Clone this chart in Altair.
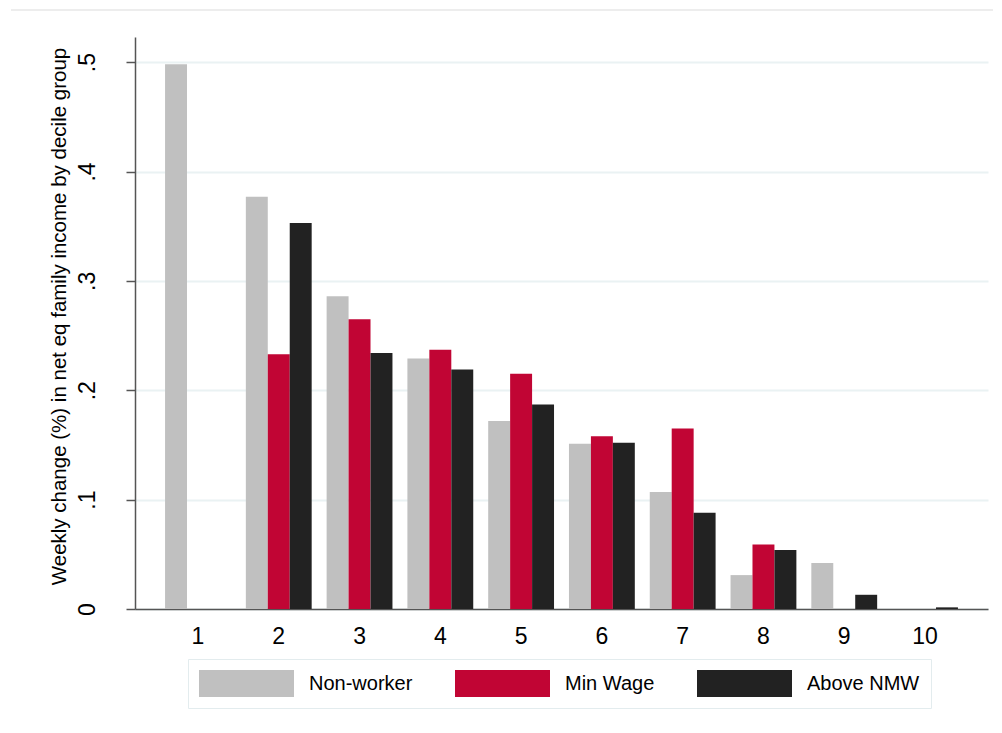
import altair as alt
import pandas as pd

deciles = ["1", "2", "3", "4", "5", "6", "7", "8", "9", "10"]
series = ["Non-worker", "Min Wage", "Above NMW"]
non_worker = [0.498, 0.377, 0.286, 0.229, 0.172, 0.151, 0.107, 0.031, 0.042, 0.0]
min_wage = [0.0, 0.233, 0.265, 0.237, 0.215, 0.158, 0.165, 0.059, 0.0, 0.0]
above_nmw = [0.0, 0.353, 0.234, 0.219, 0.187, 0.152, 0.088, 0.054, 0.013, 0.0015]
colors = ["#c0c0c0", "#c10534", "#222222"]
y_ticks = [0, 0.1, 0.2, 0.3, 0.4, 0.5]

rows = []
for name, vals in zip(series, [non_worker, min_wage, above_nmw]):
    for d, v in zip(deciles, vals):
        rows.append({"decile": d, "series": name, "value": v})
df = pd.DataFrame(rows)

FONT = "Liberation Sans"

bars = alt.Chart(df).mark_bar().encode(
    x=alt.X("decile:N", sort=deciles, title=None,
            scale=alt.Scale(paddingInner=0.185, paddingOuter=0.372),
            axis=alt.Axis(labelAngle=0, labelFontSize=23, labelFont=FONT,
                          labelColor="#000000", ticks=False, labelPadding=16,
                          domainColor="#555555", domainWidth=1.5, grid=False)),
    xOffset=alt.XOffset("series:N", sort=series,
                        scale=alt.Scale(paddingInner=0, paddingOuter=0)),
    y=alt.Y("value:Q", title="Weekly change (%) in net eq family income by decile group",
            scale=alt.Scale(domain=[0, 0.523], nice=False, zero=True),
            axis=alt.Axis(values=y_ticks,
                          labelExpr="datum.value == 0 ? '0' : substring(format(datum.value, '.1f'), 1)",
                          labelAngle=270, labelAlign="center", labelBaseline="alphabetic",
                          labelFontSize=23, labelFont=FONT, labelColor="#000000",
                          labelPadding=32, tickSize=9, tickColor="#555555", tickWidth=1.5,
                          domainColor="#555555", domainWidth=1.5,
                          grid=True, gridColor="#eaf2f3", gridWidth=2,
                          titleFont=FONT, titleFontSize=20.5, titleFontWeight="normal",
                          titleColor="#000000", titleAngle=270, titleAlign="center",
                          titleBaseline="alphabetic", titleX=-70, titleY=279)),
    color=alt.Color("series:N", sort=series, title=None,
                    scale=alt.Scale(domain=series, range=colors),
                    legend=alt.Legend(orient="none", legendX=53, legendY=622,
                                      direction="horizontal", columns=3,
                                      symbolType="M-1,-1H6.037V1H-1Z",
                                      symbolSize=729, symbolStrokeWidth=0,
                                      labelFont=FONT, labelFontSize=20,
                                      labelColor="#000000", labelOffset=83,
                                      columnPadding=42, padding=11,
                                      strokeColor="#e3ecee", fillColor="#ffffff")),
)

top_line = alt.Chart(df).mark_rule(color="#ececec", strokeWidth=1.5).encode(
    x=alt.value(-124), x2=alt.value(870), y=alt.value(-27)
)

chart = alt.layer(top_line, bars).properties(
    width=853, height=572,
    autosize=alt.AutoSizeParams(type="none"),
    padding={"left": 127, "top": 29, "right": 5, "bottom": 105},
).configure(background="#ffffff").configure_view(stroke=None)

chart.save("out.html", embed_options={"renderer": "svg", "actions": False})
